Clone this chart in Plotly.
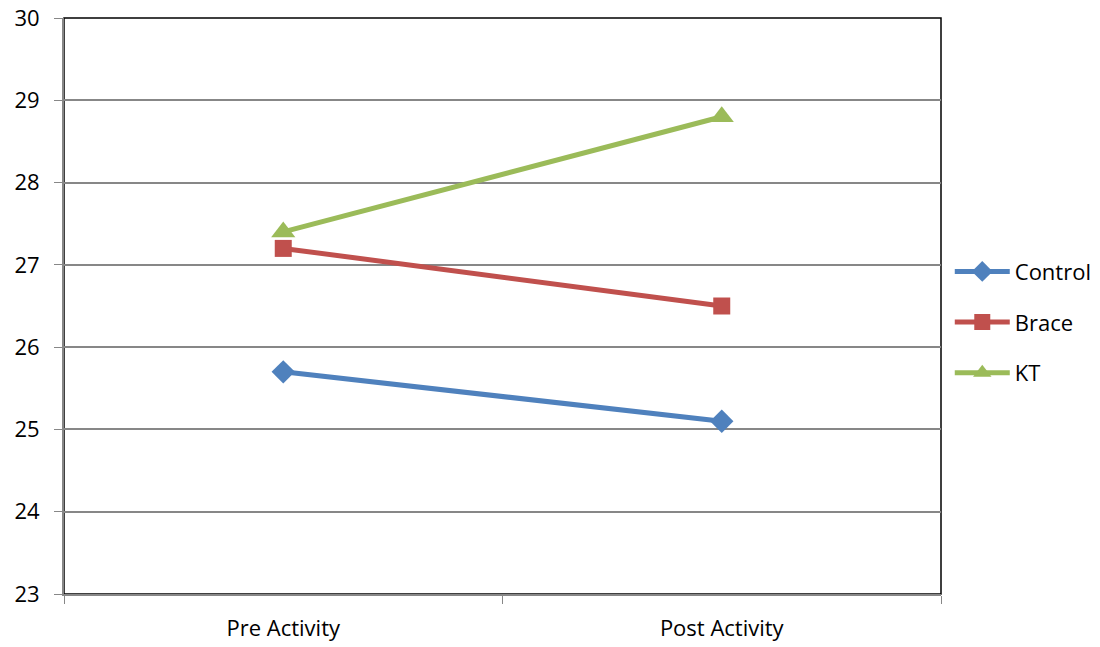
import plotly.graph_objects as go

categories = ["Pre Activity", "Post Activity"]
control = [25.7, 25.1]
brace = [27.2, 26.5]
kt = [27.4, 28.8]
y_ticks = [23, 24, 25, 26, 27, 28, 29, 30]

series = [
    ("Control", control, "#4F81BD", "diamond", 18),
    ("Brace", brace, "#C0504D", "square", 17),
    ("KT", kt, "#9BBB59", "triangle-up", 21),
]

fig = go.Figure()
for i, (name, vals, color, sym, size) in enumerate(series):
    fig.add_trace(go.Scatter(
        x=categories, y=vals, name=name, mode="lines+markers",
        line=dict(color=color, width=5),
        marker=dict(symbol=sym, size=size, color=color),
        legendgroup=f"g{i}",
    ))

fig.add_shape(type="rect", xref="x domain", yref="y domain", x0=0, x1=1, y0=0, y1=1,
              line=dict(color="black", width=1.5), layer="below")

font = "Open Sans, Noto Sans, sans-serif"
fs = 22
fig.update_layout(
    width=1100, height=647,
    margin=dict(l=64, r=159, t=18, b=53, autoexpand=False),
    paper_bgcolor="white", plot_bgcolor="white",
    font=dict(family=font, size=fs, color="black"),
    showlegend=True,
    legend=dict(x=1.010, y=0.472, xanchor="left", yanchor="middle",
                traceorder="grouped", tracegroupgap=19, itemwidth=55,
                font=dict(size=fs), bgcolor="rgba(0,0,0,0)"),
    xaxis=dict(type="category", range=[-0.5, 1.5], showgrid=False, automargin=False,
               showline=True, linecolor="#878787", linewidth=2,
               ticks="outside", tickson="boundaries", ticklen=8, tickcolor="#878787",
               ticklabelstandoff=14,
               tickfont=dict(size=fs), zeroline=False),
    yaxis=dict(range=[23, 30], tickvals=y_ticks, showgrid=True, gridcolor="#878787", gridwidth=1.5,
               automargin=False,
               showline=True, linecolor="#878787", linewidth=2,
               ticks="outside", ticklen=8, tickcolor="#878787",
               ticklabelstandoff=10,
               tickfont=dict(size=fs), zeroline=False),
)

fig.write_html("out.html")
